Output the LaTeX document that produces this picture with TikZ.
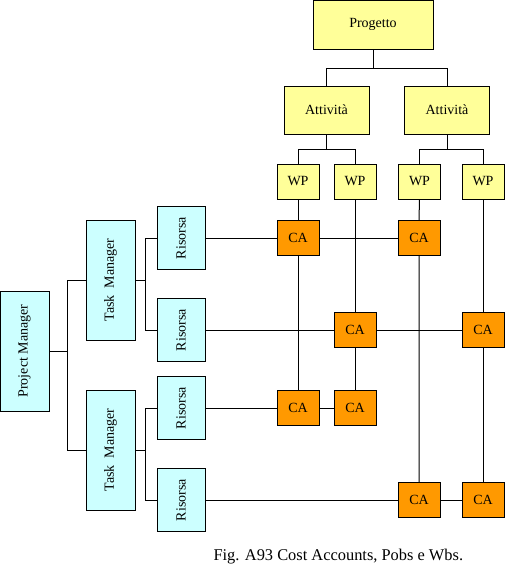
\documentclass[tikz,border=0pt]{standalone}
\usepackage{fontspec}
\setmainfont{Liberation Serif}
\usepackage{tikz}
\usetikzlibrary{positioning,calc}
\definecolor{PaleYellow}{HTML}{FFFF99}
\definecolor{PaleCyan}{HTML}{CCFFFF}
\definecolor{CAOrange}{HTML}{FF9900}

\begin{document}
\begin{tikzpicture}[x=0.75pt,y=-0.75pt,line width=0.75pt,
  box/.style={draw,inner sep=0pt,font=\fontsize{10.5}{12}\selectfont},
  wbsbox/.style={box,fill=PaleYellow},
  obsbox/.style={box,fill=PaleCyan,rotate=90},
  cabox/.style={box,fill=CAOrange,minimum width=31.5pt,minimum height=26.25pt}]
  \useasboundingbox (0,0) rectangle (506,576);

  % wbs: progetto, attivita, work packages
  \node[wbsbox,minimum width=90pt,minimum height=36.75pt] (prog) at (373,24.5) {Progetto};
  \node[wbsbox,minimum width=63.75pt,minimum height=36pt] (att1) at (326.5,110) {Attività};
  \node[wbsbox,minimum width=63.75pt,minimum height=36pt] (att2) at (447,110) {Attività};
  \foreach \x/\n in {298/1,355/2,419.5/3,483/4} {
    \node[wbsbox,minimum width=31.5pt,minimum height=26.25pt] (wp\n) at (\x,181.5) {WP};
  }

  % obs: project manager, task manager, risorse
  \node[obsbox,minimum width=90pt,minimum height=36.75pt] (pm) at (24.5,351) {Project Manager};
  \node[obsbox,minimum width=90pt,minimum height=36.75pt] (tm1) at (110.5,280) {Task~ Manager};
  \node[obsbox,minimum width=90pt,minimum height=36.75pt] (tm2) at (110.5,450) {Task~ Manager};
  \foreach \y/\n in {238/1,330/2,408/3,500/4} {
    \node[obsbox,minimum width=47.25pt,minimum height=36pt] (ris\n) at (181,\y) {Risorsa};
  }

  % cost accounts
  \node[cabox] (ca11) at (298,238) {CA};
  \node[cabox] (ca13) at (419,238) {CA};
  \node[cabox] (ca22) at (355,330) {CA};
  \node[cabox] (ca24) at (483,330) {CA};
  \node[cabox] (ca31) at (298,408) {CA};
  \node[cabox] (ca32) at (355,408) {CA};
  \node[cabox] (ca43) at (419,500) {CA};
  \node[cabox] (ca44) at (483,500) {CA};

  % tree connectors
  \draw (prog.south) -- ++(0,19) -| (att1.north);
  \draw (prog.south) -- ++(0,19) -| (att2.north);
  \draw (att1.south) -- ++(0,15) -| (wp1.north);
  \draw (att1.south) -- ++(0,15) -| (wp2.north);
  \draw (att2.south) -- ++(0,15) -| (wp3.north);
  \draw (att2.south) -- ++(0,15) -| (wp4.north);
  \draw (pm.south) -- ++(18,0) |- (tm1.north);
  \draw (pm.south) -- ++(18,0) |- (tm2.north);
  \draw (tm1.south) -- ++(10,0) |- (ris1.north);
  \draw (tm1.south) -- ++(10,0) |- (ris2.north);
  \draw (tm2.south) -- ++(10,0) |- (ris3.north);
  \draw (tm2.south) -- ++(10,0) |- (ris4.north);

  % matrix lines
  \draw (wp1.south) -- (ca11.north) (ca11.south) -- (ca31.north);
  \draw (wp2.south) -- (ca22.north) (ca22.south) -- (ca32.north);
  \draw (wp3.south) -- (ca13.north) (ca13.south) -- (ca43.north);
  \draw (wp4.south) -- (ca24.north) (ca24.south) -- (ca44.north);
  \draw (ris1.south) -- (ca11.west) (ca11.east) -- (ca13.west);
  \draw (ris2.south) -- (ca22.west) (ca22.east) -- (ca24.west);
  \draw (ris3.south) -- (ca31.west) (ca31.east) -- (ca32.west);
  \draw (ris4.south) -- (ca43.west) (ca43.east) -- (ca44.west);

  \node[anchor=west,inner sep=0pt,font=\fontsize{12.3}{14}\selectfont] (caption) at (213,557) {Fig. A93 Cost Accounts, Pobs e Wbs.};
\end{tikzpicture}
\end{document}
